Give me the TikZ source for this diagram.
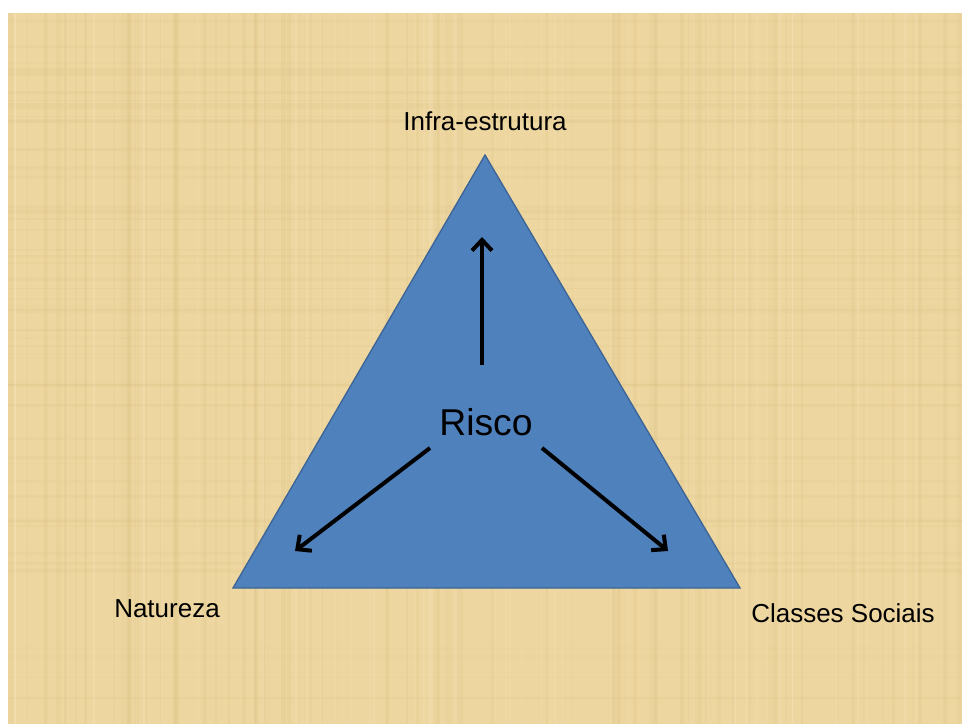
\documentclass[tikz,border=0pt]{standalone}
\usepackage{fontspec}
\setmainfont{Liberation Sans}
\usetikzlibrary{arrows.meta}
\definecolor{papyrus}{RGB}{237,214,160}
\definecolor{papdark}{RGB}{214,186,122}
\definecolor{paplight}{RGB}{247,230,188}
\definecolor{trifill}{RGB}{79,129,189}
\definecolor{triedge}{RGB}{60,100,150}
\tikzset{
  lbl/.style={font=\fontsize{19.5pt}{22pt}\selectfont, text=black, inner sep=0pt},
  bigl/.style={font=\fontsize{28pt}{32pt}\selectfont, text=black, inner sep=0pt},
  arr/.style={line width=3pt, draw=black, -{Straight Barb[length=8pt,width=15pt,line width=3pt]}},
}
\begin{document}
\begin{tikzpicture}[x=0.75pt,y=-0.75pt]
\useasboundingbox (0,0) rectangle (962,724);
\fill[white] (0,0) rectangle (962,724);
\fill[papyrus] (8,13) rectangle (962,724);
% subtle texture
\pgfmathsetseed{7}
\foreach \i in {1,...,90}{
  \pgfmathsetmacro{\xx}{8+rnd*950}
  \pgfmathsetmacro{\op}{0.06+rnd*0.12}
  \pgfmathsetmacro{\w}{1+rnd*4}
  \fill[papdark,opacity=\op] (\xx,13) rectangle ++(\w,711);
}
\foreach \i in {1,...,60}{
  \pgfmathsetmacro{\yy}{13+rnd*705}
  \pgfmathsetmacro{\op}{0.05+rnd*0.10}
  \pgfmathsetmacro{\w}{1+rnd*3}
  \fill[papdark,opacity=\op] (8,\yy) rectangle ++(954,\w);
}
\foreach \i in {1,...,50}{
  \pgfmathsetmacro{\xx}{8+rnd*950}
  \pgfmathsetmacro{\op}{0.15+rnd*0.25}
  \fill[paplight,opacity=\op] (\xx,13) rectangle ++(1.5,711);
}
% triangle
\coordinate (A) at (485,155);
\coordinate (B) at (233,588);
\coordinate (C) at (740,588);
\fill[trifill] (A) -- (B) -- (C) -- cycle;
\draw[triedge, line width=1pt, line join=miter] (A) -- (B) -- (C) -- cycle;
% labels
\node[lbl] (infra) at (485,121) {Infra-estrutura};
\node[lbl] (nat) at (167,609) {Natureza};
\node[lbl] (cls) at (843,613) {Classes Sociais};
\node[bigl] (risco) at (486,422) {Risco};
% arrow ends
\coordinate (upS) at (482,365);
\coordinate (upE) at (482,237);
\coordinate (lS) at (430,448);
\coordinate (lE) at (295,551);
\coordinate (rS) at (542,448);
\coordinate (rE) at (668,551);
\draw[arr] (upS) -- (upE);
\draw[arr] (lS) -- (lE);
\draw[arr] (rS) -- (rE);
\end{tikzpicture}
\end{document}
